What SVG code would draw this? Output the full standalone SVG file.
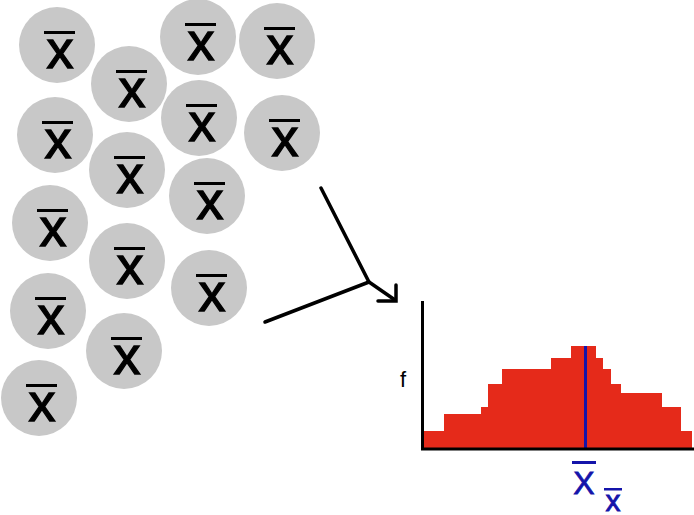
<svg xmlns="http://www.w3.org/2000/svg" width="694" height="515" viewBox="0 0 694 515">
<style>
.c{fill:#c8c8c8}
.t{font-family:"Liberation Sans",Arial,sans-serif;font-size:54px;fill:#000;stroke:#000;stroke-width:1.3px;text-anchor:middle}
.b{stroke:#000;stroke-width:3}
.ln{stroke:#000;stroke-width:3.5;fill:none;stroke-linecap:round}
.bar{fill:#e52a1a}
.ax{stroke:#000;stroke-width:3;fill:none}
.bl{fill:#1414aa;stroke:#1414aa;stroke-width:0.8px;font-family:"Liberation Sans",Arial,sans-serif}
</style>
<defs>
<g id="xb">
<circle class="c" r="38"/>
<text class="t" x="3" y="23">x</text>
<line class="b" x1="-13" y1="-12.5" x2="18" y2="-12.5"/>
</g>
</defs>
<g id="n1"><use href="#xb" x="57" y="45"/></g>
<g id="n2"><use href="#xb" x="129" y="84"/></g>
<g id="n3"><use href="#xb" x="198" y="37"/></g>
<g id="n4"><use href="#xb" x="277" y="41"/></g>
<g id="n5"><use href="#xb" x="55" y="135"/></g>
<g id="n6"><use href="#xb" x="199" y="118"/></g>
<g id="n7"><use href="#xb" x="282" y="133"/></g>
<g id="n8"><use href="#xb" x="127" y="170"/></g>
<g id="n9"><use href="#xb" x="207" y="196"/></g>
<g id="n10"><use href="#xb" x="50" y="223"/></g>
<g id="n11"><use href="#xb" x="127" y="261"/></g>
<g id="n12"><use href="#xb" x="209" y="288"/></g>
<g id="n13"><use href="#xb" x="48" y="311"/></g>
<g id="n14"><use href="#xb" x="124" y="351"/></g>
<g id="n15"><use href="#xb" x="39" y="398"/></g>
<g id="connectors">
<polyline class="ln" points="321,188 369,282 395,300"/>
<line class="ln" x1="265" y1="322" x2="369" y2="282"/>
<polyline class="ln" points="378,301 396,301 396,285" stroke-linecap="butt"/>
</g>
<g id="histogram">
<path class="bar" d="M423,448 V431 H444 V414 H481 V407 H488 V384 H502 V369 H551 V358 H571 V346 H596 V358 H603 V369 H611 V384 H621 V393 H662 V407 H681 V431 H692 V448 Z"/>
<line x1="585.5" y1="346" x2="585.5" y2="448" stroke="#1414aa" stroke-width="3"/>
<polyline class="ax" points="422.5,301 422.5,449 694,449"/>
<text x="403" y="387" font-family="'Liberation Sans',Arial,sans-serif" font-size="22" text-anchor="middle">f</text>
<text class="bl" x="584" y="494" font-size="32" text-anchor="middle">X</text>
<rect x="572" y="461" width="24" height="3" fill="#1414aa"/>
<text class="bl" x="613" y="511" font-size="30" text-anchor="middle">x</text>
<rect x="604" y="488" width="18" height="2.5" fill="#1414aa"/>
</g>
</svg>
